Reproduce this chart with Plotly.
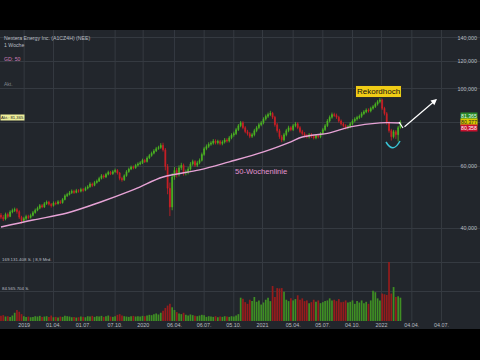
import math
import pandas as pd
import plotly.graph_objects as go

# ---------------- data ----------------
week_start = "2018-10-22"
n_weeks = 176
first_open = 43.6

closes = [43.0,42.5,43.8,43.2,44.5,44.9,45.2,44.6,43.0,42.0,
          42.6,43.2,42.9,43.5,44.3,45.0,45.6,46.4,46.0,47.0,
          47.5,46.8,46.4,47.2,47.0,47.6,47.3,48.3,49.5,49.9,
          50.5,51.0,50.6,51.2,51.0,51.6,51.3,52.0,52.5,53.5,
          53.0,54.0,54.5,55.5,56.5,56.0,57.0,57.8,57.2,58.0,
          58.5,57.5,55.5,55.0,56.5,58.0,59.0,59.8,59.5,60.5,
          61.0,61.5,62.5,62.0,63.5,64.5,65.5,66.5,67.5,68.0,
          69.0,67.0,60.0,52.0,46.0,56.0,58.5,57.0,59.5,60.5,
          57.5,57.8,59.0,61.0,62.0,60.5,61.5,62.5,65.0,67.5,
          68.5,69.5,70.0,71.0,70.2,70.8,69.8,70.5,71.5,71.0,
          72.5,73.8,74.5,76.5,78.5,80.0,77.5,75.5,74.5,73.2,
          74.0,76.0,77.5,79.0,80.0,82.0,83.5,84.5,85.2,83.0,
          79.0,76.0,73.0,71.5,74.0,76.0,77.5,76.5,78.5,79.5,
          77.5,75.5,74.5,73.5,73.0,74.0,73.2,72.5,73.5,73.0,
          74.5,76.5,78.5,81.0,83.0,84.5,84.0,83.0,81.0,79.5,
          78.5,77.5,78.0,79.5,81.0,82.0,82.8,83.5,85.0,86.0,
          87.0,86.5,88.0,89.0,90.5,92.0,93.0,88.0,85.0,80.0,
          76.0,73.0,75.5,74.0,77.5,80.36]

highs = [44.2,43.6,44.3,44.3,45.0,45.5,45.8,45.7,45.0,43.4,
         43.1,43.7,43.7,44.0,44.8,45.5,46.1,46.9,46.9,47.5,
         48.0,47.9,47.2,47.7,47.7,48.1,48.1,48.8,50.0,50.5,
         51.1,51.6,51.5,51.8,51.7,52.2,52.1,52.6,53.1,54.1,
         54.0,54.6,55.1,56.1,57.1,57.0,57.6,58.4,58.3,58.6,
         59.2,59.0,57.9,56.1,57.0,58.6,59.6,60.4,60.4,61.1,
         61.7,62.2,63.2,63.1,64.2,65.2,66.2,67.3,68.3,68.8,
         70.0,70.2,67.8,61.0,54.0,57.5,59.8,59.5,60.5,61.5,
         61.2,58.8,59.9,61.8,62.8,62.6,62.3,63.3,65.8,68.3,
         69.4,70.4,70.9,71.9,71.8,71.6,71.5,71.3,72.4,72.3,
         73.4,74.7,75.5,77.4,79.4,81.0,80.9,78.3,76.4,75.3,
         74.9,76.9,78.4,80.0,81.0,83.0,84.5,85.6,86.6,86.0,
         83.8,79.9,76.9,73.9,74.9,76.9,78.5,78.3,79.4,80.5,
         80.3,78.3,76.4,75.3,74.3,74.8,74.8,74.0,74.3,74.3,
         75.3,77.4,79.4,82.0,84.0,85.6,85.5,85.0,83.8,81.8,
         80.3,79.3,78.9,80.4,81.9,83.0,83.8,84.5,86.0,87.0,
         88.0,88.0,89.0,90.0,91.5,93.0,94.6,93.8,88.9,85.9,
         80.9,76.9,76.4,76.3,78.4,81.37]

lows = [42.5,41.9,42.1,42.7,43.0,44.1,44.5,44.0,42.5,41.2,
        41.5,42.2,42.4,42.6,43.2,44.0,44.7,45.3,45.6,45.7,
        46.6,46.4,45.8,46.1,46.5,46.7,46.9,47.0,48.0,49.1,
        49.6,50.1,50.1,50.3,50.5,50.6,50.8,51.0,51.6,52.2,
        52.4,52.7,53.6,54.2,55.1,55.4,55.6,56.6,56.7,56.8,
        57.6,56.9,54.8,54.3,54.6,56.1,57.6,58.6,58.9,59.1,
        60.0,60.5,61.0,61.4,61.6,63.0,64.0,65.0,66.0,67.0,
        67.4,66.2,58.5,50.0,43.3,45.0,55.0,55.8,56.2,58.6,
        56.5,56.6,57.0,58.4,60.3,59.8,59.8,60.9,62.0,64.4,
        66.8,67.8,68.8,69.3,69.4,69.4,69.0,69.0,69.8,70.2,
        70.3,71.8,73.0,73.8,75.8,77.7,76.7,74.7,73.6,72.3,
        72.4,73.2,75.2,76.7,78.2,79.2,81.2,82.6,83.6,82.0,
        78.0,75.0,72.0,70.4,70.8,73.2,75.2,75.7,75.8,77.7,
        76.7,74.7,73.6,72.7,72.2,72.2,72.4,71.7,71.8,72.2,
        72.3,73.8,75.8,77.8,80.2,82.2,83.2,82.1,80.1,78.6,
        77.6,76.6,76.7,77.2,78.7,80.2,81.2,82.0,82.7,84.2,
        85.2,85.6,85.7,87.2,88.2,89.6,91.0,87.0,84.0,79.0,
        75.0,71.2,72.2,72.0,70.8,77.0]

volumes_mio = [15,17,13,14,12,16,24,32,27,20,
               14,12,13,11,12,14,13,15,12,13,
               14,12,16,11,12,10,13,12,15,14,
               13,11,12,10,11,13,12,11,14,13,
               15,12,14,13,15,12,14,16,13,12,
               14,18,20,16,14,13,12,14,15,13,
               14,13,15,14,16,18,17,20,22,19,
               24,30,38,45,50,40,32,26,22,20,
               24,18,16,19,17,15,14,16,18,17,
               12,14,13,12,14,11,13,12,14,13,
               12,14,13,16,20,
               68,65,55,50,62,58,70,56,60,48,
               54,62,68,58,102,70,96,95,96,85,
               62,58,66,60,64,75,62,66,58,60,
               52,55,62,56,60,52,55,58,60,66,
               60,62,58,64,55,56,60,54,56,60,
               50,58,54,60,52,56,50,60,88,84,
               66,60,80,78,76,172,80,99,70,72,
               68]

# 50-week moving average ("50-Wochenlinie"), read at selected weeks
ma_week_idx = [0, 14, 29, 44, 57, 61, 71, 87, 100, 115, 127, 132, 144, 153, 166, 175]
ma_values = [40.3, 42.2, 44.2, 47.6, 51.2, 52.5, 56.0, 58.7, 61.9, 66.1, 70.6, 72.9, 74.9, 77.9, 80.0, 79.9]

price_ticks = [40, 60, 80, 100, 120, 140]
price_tick_text = ["40,000", "60,000", "80,000", "100,000", "120,000", "140,000"]

date_ticks = ["2019-01-01", "2019-04-01", "2019-07-01", "2019-10-07", "2020-01-01", "2020-04-06",
              "2020-07-06", "2020-10-05", "2021-01-01", "2021-04-05", "2021-07-05", "2021-10-04",
              "2022-01-01", "2022-04-04", "2022-07-04"]
date_tick_text = ["2019", "01.04.", "01.07.", "07.10.", "2020", "06.04.", "06.07.", "05.10.",
                  "2021", "05.04.", "05.07.", "04.10.", "2022", "04.04.", "04.07."]

vol_ticks = [84565704, 169131408]
vol_tick_text = ["84.565.704 S.", "169.131.408 S. | 8,9 Mrd."]

last_price = 81.365
price_boxes = ["81,365", "80,377", "80,358"]

# ---------------- derived ----------------
dates = pd.date_range(week_start, periods=n_weeks, freq="7D")
opens = [first_open] + closes[:-1]
volumes = [v * 1e6 for v in volumes_mio]
vol_colors = ["#3f8f24" if c >= o else "#961c1c" for o, c in zip(opens, closes)]
ma_dates = [dates[i] for i in ma_week_idx]

W, H = 480, 360
def fx(px):
    return px / W
def fy(px):
    return 1 - px / H

FONT = "Liberation Sans, Arial, sans-serif"
GRID = "#353a41"
TXT = "#b9bdc3"

fig = go.Figure()

fig.add_trace(go.Bar(x=dates, y=volumes, marker=dict(color=vol_colors, line=dict(width=0)),
                     xaxis="x", yaxis="y2", showlegend=False, hoverinfo="skip"))

fig.add_trace(go.Candlestick(
    x=dates, open=opens, high=highs, low=lows, close=closes,
    increasing=dict(line=dict(color="#4cb822", width=0.8), fillcolor="#4cb822"),
    decreasing=dict(line=dict(color="#d11f26", width=0.8), fillcolor="#d11f26"),
    whiskerwidth=0, xaxis="x", yaxis="y", showlegend=False, hoverinfo="skip"))

fig.add_trace(go.Scatter(x=ma_dates, y=ma_values, mode="lines",
                         line=dict(color="#e7a3d6", width=1.4, shape="spline"),
                         xaxis="x", yaxis="y", showlegend=False, hoverinfo="skip"))

shapes = []
# chart panel background
shapes.append(dict(type="rect", xref="paper", yref="paper", x0=0, x1=1, y0=fy(329), y1=fy(30),
                   fillcolor="#22262c", line=dict(width=0), layer="below"))
# vertical grid lines
for d in date_ticks:
    shapes.append(dict(type="line", xref="x", yref="paper", x0=d, x1=d, y0=fy(321), y1=fy(30),
                       line=dict(color=GRID, width=1), layer="below"))
# current price line
shapes.append(dict(type="line", xref="paper", yref="y", x0=0, x1=1,
                   y0=math.log10(last_price), y1=math.log10(last_price),
                   line=dict(color="#6e7277", width=1.5), layer="below"))
# cyan arc under the dip
shapes.append(dict(type="path", xref="paper", yref="paper",
                   path=f"M {fx(386)} {fy(142)} Q {fx(393)} {fy(154)} {fx(400)} {fy(141)}",
                   line=dict(color="#39c4d6", width=1.5)))
# white tick of the arrow
shapes.append(dict(type="line", xref="paper", yref="paper", x0=fx(399), y0=fy(122), x1=fx(403), y1=fy(128),
                   line=dict(color="white", width=1.2)))

annotations = [
    dict(text="Nextera Energy Inc. (A1CZ4H) (NEE)", x=fx(2), y=fy(38), xanchor="left", yanchor="middle",
         font=dict(size=5.2, color=TXT)),
    dict(text="1 Woche", x=fx(2), y=fy(45), xanchor="left", yanchor="middle", font=dict(size=5.2, color=TXT)),
    dict(text="GD: 50", x=fx(2), y=fy(59), xanchor="left", yanchor="middle", font=dict(size=5.2, color="#d07fba")),
    dict(text="Akt.", x=fx(2), y=fy(84), xanchor="left", yanchor="middle", font=dict(size=5, color="#80848a")),
    dict(text="Akt.: 81,365", x=fx(0), y=fy(118), xanchor="left", yanchor="middle",
         font=dict(size=4.2, color="#222"), bgcolor="#eeee9a", borderpad=0),
    dict(text="Rekordhoch", x=fx(378), y=fy(91.5), xanchor="center", yanchor="middle",
         font=dict(size=8, color="#111"), bgcolor="#f0cc16", bordercolor="#2a2a2a", borderwidth=1, borderpad=1),
    dict(text="50-Wochenlinie", x=fx(261), y=fy(171), xanchor="center", yanchor="middle",
         font=dict(size=7.6, color="#e394d2")),
    dict(text="", x=fx(437), y=fy(99), ax=-34, ay=29, showarrow=True, arrowhead=2, arrowsize=1,
         arrowwidth=1.2, arrowcolor="white"),
]
# volume scale labels (placed just above their grid lines)
for v, t in zip(vol_ticks, vol_tick_text):
    annotations.append(dict(text=t, x=fx(1), y=v, yref="y2", xanchor="left", yanchor="bottom",
                            font=dict(size=4.4, color=TXT), borderpad=0))
box_styles = [("#2b8a2b", "#e8ffe8", 116.5), ("#d8c800", "#222", 122), ("#c8102e", "#ffffff", 127.5)]
for label, (bg, fg, ypx) in zip(price_boxes, box_styles):
    annotations.append(dict(text=label, x=fx(478), y=fy(ypx), xanchor="right", yanchor="middle",
                            font=dict(size=5.2, color=fg), bgcolor=bg, borderpad=0))
for a in annotations:
    a.setdefault("xref", "paper")
    a.setdefault("yref", "paper")
    a.setdefault("showarrow", False)
    if a.get("showarrow"):
        a["axref"] = "pixel"
        a["ayref"] = "pixel"

fig.update_layout(
    width=W, height=H, margin=dict(l=0, r=0, t=0, b=0),
    paper_bgcolor="black", plot_bgcolor="rgba(0,0,0,0)",
    font=dict(family=FONT, color=TXT),
    showlegend=False, bargap=0.25, boxgap=0.45, hovermode=False,
    shapes=shapes, annotations=annotations,
    xaxis=dict(type="date", range=["2018-10-19", "2022-10-30"], domain=[0, 1], anchor="y2",
               showgrid=False, zeroline=False, showline=False, ticks="",
               tickvals=date_ticks, ticktext=date_tick_text, tickangle=0,
               tickfont=dict(size=5.4, color=TXT), rangeslider=dict(visible=False)),
    yaxis=dict(type="log", range=[math.log10(35.8), math.log10(147.4)],
               domain=[fy(245), fy(30)], anchor="x", side="right", ticklabelposition="inside",
               tickvals=price_ticks, ticktext=price_tick_text, showgrid=True, gridcolor=GRID,
               zeroline=False, showline=False, ticks="", tickfont=dict(size=5.4, color=TXT)),
    yaxis2=dict(range=[0, 207e6], domain=[fy(321), fy(250)], anchor="x", side="left",
                tickvals=vol_ticks, showticklabels=False,
                showgrid=True, gridcolor=GRID, zeroline=False, showline=False, ticks=""),
)

fig.write_html("out.html", config={"displayModeBar": False, "staticPlot": True},
               post_script="document.body.style.margin='0';document.body.style.background='black';")
